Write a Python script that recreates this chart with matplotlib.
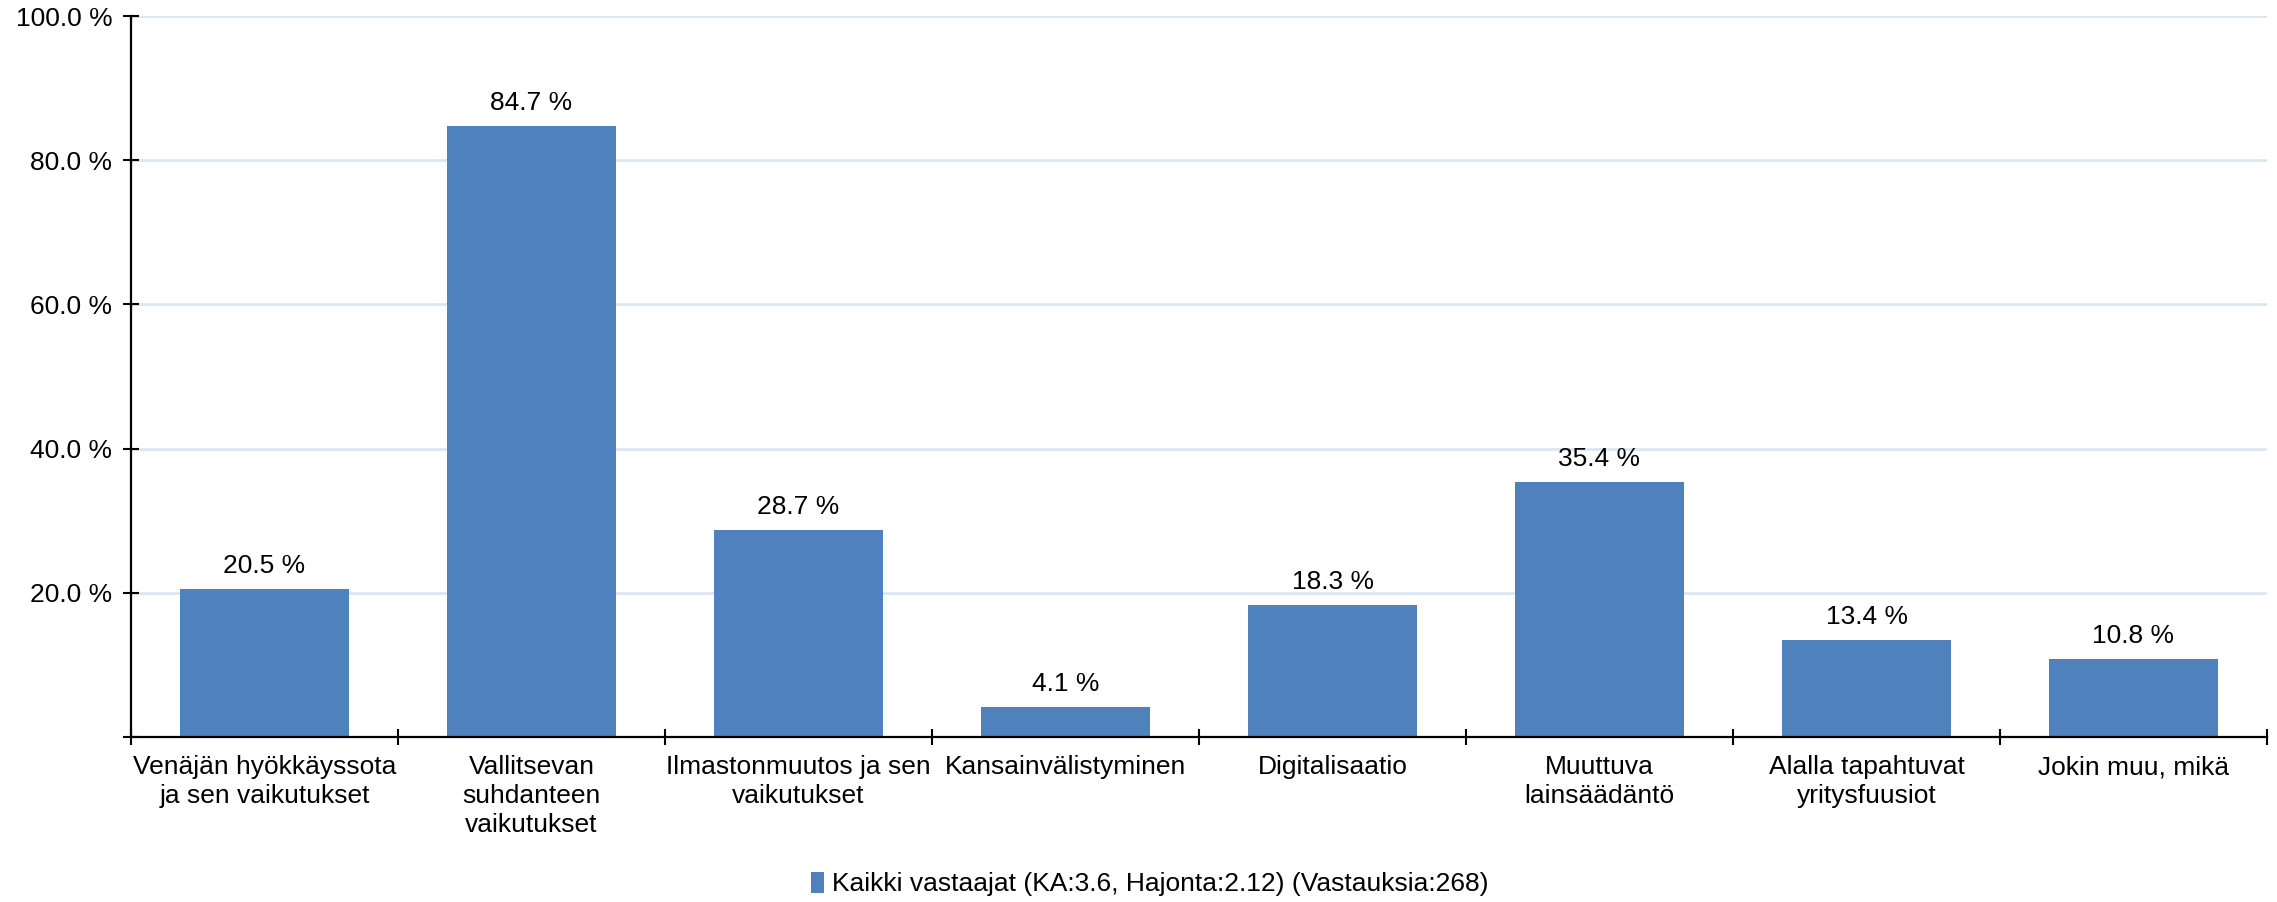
import matplotlib
matplotlib.use('Agg')
import matplotlib.pyplot as plt
import numpy as np
from matplotlib.patches import Patch

plt.rcParams['font.family'] = ['Liberation Sans', 'DejaVu Sans']

categories = ["Venäjän hyökkäyssota\nja sen vaikutukset",
              "Vallitsevan\nsuhdanteen\nvaikutukset",
              "Ilmastonmuutos ja sen\nvaikutukset",
              "Kansainvälistyminen",
              "Digitalisaatio",
              "Muuttuva\nlainsäädäntö",
              "Alalla tapahtuvat\nyritysfuusiot",
              "Jokin muu, mikä"]
values = [20.5, 84.7, 28.7, 4.1, 18.3, 35.4, 13.4, 10.8]
yticks = [0, 20, 40, 60, 80, 100]
series_name = "Kaikki vastaajat (KA:3.6, Hajonta:2.12) (Vastauksia:268)"

bar_color = '#4f81bd'
grid_color = '#dce6f2'
fs = 19

fig = plt.figure(figsize=(22.77, 9.02), dpi=100)
ax = fig.add_axes([131/2277, 1-737/902, (2267-131)/2277, (737-16)/902])

x = np.arange(len(categories))
bars = ax.bar(x, values, width=0.63, color=bar_color, zorder=3)

for xi, v in zip(x, values):
    ax.annotate(f"{v:.1f} %", (xi, v), xytext=(0, 8), textcoords='offset points',
                ha='center', va='bottom', fontsize=fs)

ax.set_xlim(-0.5, len(categories) - 0.5)
ax.set_ylim(0, 100)
ax.set_yticks(yticks)
ax.set_yticklabels(['' if t == 0 else f"{t:.1f} %" for t in yticks], fontsize=fs)
ax.yaxis.grid(True, color=grid_color, linewidth=2, zorder=0)
ax.set_axisbelow(True)

ax.set_xticks(x)
ax.set_xticklabels(categories, fontsize=fs, linespacing=1.25)
ax.set_xticks(np.arange(len(categories) + 1) - 0.5, minor=True)
ax.tick_params(axis='x', which='major', length=0, pad=13)
ax.tick_params(axis='x', which='minor', direction='inout', length=11, width=1.5)
ax.tick_params(axis='y', direction='inout', length=11, width=1.5, pad=8)

for side in ['top', 'right']:
    ax.spines[side].set_visible(False)
for side in ['left', 'bottom']:
    ax.spines[side].set_linewidth(1.6)
    ax.spines[side].set_zorder(4)

handle = Patch(facecolor=bar_color, edgecolor='none')
fig.legend([handle], [series_name], loc='center', bbox_to_anchor=(1150/2277, 1-884/902),
           frameon=False, fontsize=fs, handlelength=0.5, handleheight=0.85, handletextpad=0.3)

fig.savefig('out.png', dpi=100)
